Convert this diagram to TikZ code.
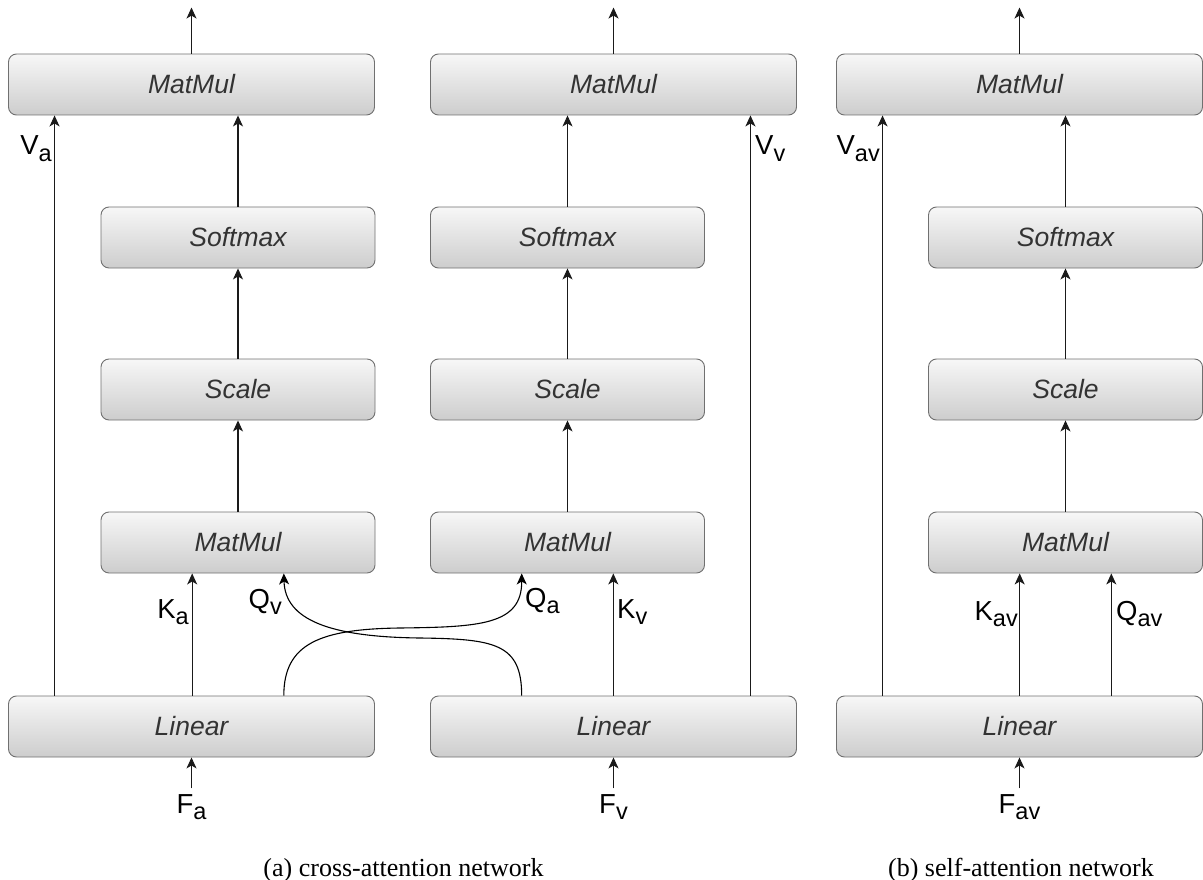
\documentclass[tikz,border=0pt]{standalone}
\usepackage{fontspec}
\setmainfont{Liberation Serif}
\newfontfamily\sansf{Liberation Sans}
\usetikzlibrary{arrows.meta,calc}

\definecolor{boxline}{HTML}{707070}
\definecolor{boxtop}{HTML}{F7F7F7}
\definecolor{boxbot}{HTML}{CDCDCD}
\definecolor{boxtext}{HTML}{333333}
\definecolor{wire}{HTML}{1A1A1A}

% subscripted operand label, e.g. \opl{V}{a}
\newcommand\opl[2]{#1\raisebox{-6.5pt}{\fontsize{23.5}{24}\selectfont #2}}

\begin{document}
\begin{tikzpicture}[x=1pt,y=-1pt,
  opbox/.style={draw=boxline,line width=0.9pt,rounded corners=8pt,
    top color=boxtop,bottom color=boxbot,minimum height=61pt,
    inner sep=0pt,text=boxtext,
    font=\sansf\itshape\fontsize{26.5}{30}\selectfont},
  widebox/.style={opbox,minimum width=366pt},
  narrowbox/.style={opbox,minimum width=274pt},
  flow/.style={draw=wire,line width=1.1pt,-{Stealth[length=11pt,width=10pt,inset=3pt]}},
  opname/.style={inner sep=0pt,text=black,font=\sansf\fontsize{27.5}{30}\selectfont},
  caption/.style={inner sep=0pt,anchor=base,font=\fontsize{26}{30}\selectfont}]

\useasboundingbox (0,0) rectangle (1203,880);

% ---------------- (a) audio branch ----------------
\node[widebox]   (top1) at (191.5,84.5)  {MatMul};
\node[narrowbox] (sm1)  at (238,237.5)   {Softmax};
\node[narrowbox] (sc1)  at (238,389.5)   {Scale};
\node[narrowbox] (mm1)  at (238,542.5)   {MatMul};
\node[widebox]   (lin1) at (191.5,726.5) {Linear};

% ---------------- (a) visual branch ----------------
\node[widebox]   (top2) at (613.5,84.5)  {MatMul};
\node[narrowbox] (sm2)  at (567.5,237.5) {Softmax};
\node[narrowbox] (sc2)  at (567.5,389.5) {Scale};
\node[narrowbox] (mm2)  at (567.5,542.5) {MatMul};
\node[widebox]   (lin2) at (613.5,726.5) {Linear};

% ---------------- (b) joint branch ----------------
\node[widebox]   (top3) at (1019.5,84.5)  {MatMul};
\node[narrowbox] (sm3)  at (1065.5,237.5) {Softmax};
\node[narrowbox] (sc3)  at (1065.5,389.5) {Scale};
\node[narrowbox] (mm3)  at (1065.5,542.5) {MatMul};
\node[widebox]   (lin3) at (1019.5,726.5) {Linear};

% outputs and inputs
\foreach \i in {1,2,3}{
  \coordinate (out\i) at ([yshift=46pt]top\i.north);
  \coordinate (in\i)  at ([yshift=-31pt]lin\i.south);
  \draw[flow] (top\i.north) -- (out\i);
  \draw[flow] (in\i) -- (lin\i.south);
  \draw[flow] (sm\i.north) -- (sm\i.north |- top\i.south);
  \draw[flow] (sc\i.north) -- (sm\i.south);
  \draw[flow] (mm\i.north) -- (sc\i.south);
}

% value paths
\coordinate (va) at ([xshift=46.5pt]lin1.north west);
\coordinate (vv) at ([xshift=-46.5pt]lin2.north east);
\coordinate (vav) at ([xshift=46.5pt]lin3.north west);
\draw[flow] (va)  -- (va |- top1.south);
\draw[flow] (vv)  -- (vv |- top2.south);
\draw[flow] (vav) -- (vav |- top3.south);

% key / query paths
\coordinate (ka)  at ($(mm1.south west)!1/3!(mm1.south east)$);
\coordinate (qv)  at ($(mm1.south west)!2/3!(mm1.south east)$);
\coordinate (qa)  at ($(mm2.south west)!1/3!(mm2.south east)$);
\coordinate (kv)  at ($(mm2.south west)!2/3!(mm2.south east)$);
\coordinate (kav) at ($(mm3.south west)!1/3!(mm3.south east)$);
\coordinate (qav) at ($(mm3.south west)!2/3!(mm3.south east)$);
\draw[flow] (ka |- lin1.north)  -- (ka);
\draw[flow] (kv |- lin2.north)  -- (kv);
\draw[flow] (kav |- lin3.north) -- (kav);
\draw[flow] (qav |- lin3.north) -- (qav);

% crossed queries
\draw[flow,draw=black] (qv |- lin1.north)
  .. controls +(0,-52) and (320,629) .. (400,628)
  .. controls (480,627) and (522,625) .. (qa);
\draw[flow,draw=black] (qa |- lin2.north)
  .. controls +(0,-52) and (495,639) .. (420,638)
  .. controls (330,637) and (285,620) .. (qv);

% operand labels
\node[opname,anchor=base east] (lva)  at (52,155)   {\opl{V}{a}};
\node[opname,anchor=base west] (lvv)  at (755,155)  {\opl{V}{v}};
\node[opname,anchor=base east] (lvav) at (880,155)  {\opl{V}{av}};
\node[opname,anchor=base east] (lka)  at (189,618)  {\opl{K}{a}};
\node[opname,anchor=base east] (lqv)  at (282,608)  {\opl{Q}{v}};
\node[opname,anchor=base west] (lqa)  at (525,607)  {\opl{Q}{a}};
\node[opname,anchor=base west] (lkv)  at (617,618)  {\opl{K}{v}};
\node[opname,anchor=base east] (lkav) at (1018,620) {\opl{K}{av}};
\node[opname,anchor=base west] (lqav) at (1116,620) {\opl{Q}{av}};
\node[opname,anchor=base] (lfa)  at (191.5,813)  {\opl{F}{a}};
\node[opname,anchor=base] (lfv)  at (613.5,813)  {\opl{F}{v}};
\node[opname,anchor=base] (lfav) at (1019.5,813) {\opl{F}{av}};

% sub-figure captions
\node[caption] (capa) at (403.5,876) {(a) cross-attention network};
\node[caption] (capb) at (1021,876)  {(b) self-attention network};
\end{tikzpicture}
\end{document}
